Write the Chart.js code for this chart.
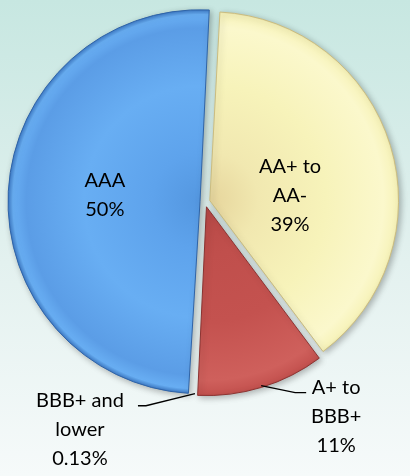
<!DOCTYPE html>
<html>
<head>
<meta charset="utf-8">
<script src="https://cdn.jsdelivr.net/npm/chart.js@4/dist/chart.umd.min.js"></script>
<style>
html,body{margin:0;padding:0;background:#fff;}
#wrap{width:410px;height:476px;position:relative;}
</style>
</head>
<body>
<div id="wrap"><canvas id="c" width="410" height="476"></canvas></div>
<script>
// ---- data ----
const categories = ['AA+ to AA-', 'A+ to BBB+', 'BBB+ and lower', 'AAA'];
const values = [39, 11, 0.13, 50];
const labelLines = [['AA+ to', 'AA-', '39%'], ['A+ to', 'BBB+', '11%'], ['BBB+ and', 'lower', '0.13%'], ['AAA', '50%']];

// ---- styles ----
const palettes = [
  ['#e6d59c', '#f1e8b0', '#f7f3ba', '#fbf8cc', '#d6c98a'],
  ['#b84a47', '#c04f4c', '#c4524f', '#cf605c', '#9c3a38'],
  ['#c4524f', '#c4524f', '#c4524f', '#c4524f', '#c4524f'],
  ['#5497e0', '#5ea3ec', '#68aef3', '#5b9de6', '#3570bd']
];
const borderCols = ['#cbbd80', '#8e3432', 'rgba(0,0,0,0)', '#2f64a8'];
const borderWidths = [1, 1, 0, 1];

function fillFor(ctx) {
  const chart = ctx.chart;
  const ca = chart.chartArea;
  if (!ca) return palettes[ctx.dataIndex][2];
  const cx = (ca.left + ca.right) / 2, cy = (ca.top + ca.bottom) / 2;
  const R = chart.options.radius;
  const p = palettes[ctx.dataIndex];
  const g = chart.ctx.createRadialGradient(cx, cy, 0, cx, cy, R + 6);
  g.addColorStop(0, p[0]);
  g.addColorStop(0.25, p[1]);
  g.addColorStop(0.6, p[2]);
  g.addColorStop(0.9, p[3]);
  g.addColorStop(0.97, p[2]);
  g.addColorStop(1, p[4]);
  return g;
}

const bgPlugin = {
  id: 'bg',
  beforeDraw(chart) {
    const c = chart.ctx;
    const g = c.createLinearGradient(0, 0, 0, chart.height);
    g.addColorStop(0, '#c7e7e1');
    g.addColorStop(0.55, '#e3f1ef');
    g.addColorStop(1, '#f6fafa');
    c.save();
    c.fillStyle = g;
    c.fillRect(0, 0, chart.width, chart.height);
    c.restore();
  }
};

const shadowPlugin = {
  id: 'shadow',
  beforeDatasetDraw(chart) {
    const c = chart.ctx;
    c.save();
    c.shadowColor = 'rgba(0,0,0,0.28)';
    c.shadowBlur = 6;
    c.shadowOffsetX = 2;
    c.shadowOffsetY = 2;
  },
  afterDatasetDraw(chart) {
    chart.ctx.restore();
  }
};

const labelPlugin = {
  id: 'sliceLabels',
  afterDatasetsDraw(chart, args, opts) {
    const c = chart.ctx;
    const meta = chart.getDatasetMeta(0);
    c.save();
    c.font = opts.font;
    c.fillStyle = '#000';
    c.textAlign = 'center';
    c.textBaseline = 'middle';
    meta.data.forEach((arc, i) => {
      const spec = opts.place[i];
      const lines = labelLines[i];
      const mid = (arc.startAngle + arc.endAngle) / 2;
      const shift = (arc.options.offset || 0) / 4;
      const cx = arc.x + Math.cos(mid) * shift;
      const cy = arc.y + Math.sin(mid) * shift;
      let tx, ty;
      if (spec.inside) {
        const a = mid + spec.da * Math.PI / 180;
        const r = arc.outerRadius * spec.r;
        tx = cx + Math.cos(a) * r;
        ty = cy + Math.sin(a) * r - (lines.length - 1) * opts.lineHeight / 2;
      } else {
        const ex = cx + Math.cos(mid) * arc.outerRadius;
        const ey = cy + Math.sin(mid) * arc.outerRadius;
        const kx = ex + spec.dx, ky = ey + spec.dy;
        const endX = kx + spec.len;
        c.beginPath();
        c.strokeStyle = '#000';
        c.lineWidth = 1.3;
        c.moveTo(ex, ey);
        c.lineTo(kx, ky);
        c.lineTo(endX, ky);
        c.stroke();
        tx = endX + spec.tdx;
        ty = ky + spec.tdy;
      }
      lines.forEach((t, j) => c.fillText(t, tx, ty + j * opts.lineHeight));
    });
    c.restore();
  }
};

new Chart(document.getElementById('c'), {
  type: 'pie',
  data: {
    labels: categories,
    datasets: [{
      data: values,
      backgroundColor: fillFor,
      borderColor: borderCols,
      borderWidth: borderWidths,
      offset: 20,
      hoverOffset: 0
    }]
  },
  plugins: [bgPlugin, shadowPlugin, labelPlugin],
  options: {
    responsive: false,
    animation: false,
    rotation: 3,
    radius: 187,
    layout: { padding: { left: 0, right: 0, top: 0, bottom: 72 } },
    plugins: {
      legend: { display: false },
      tooltip: { enabled: false },
      sliceLabels: {
        font: '20px Lato, "Open Sans", sans-serif',
        lineHeight: 29,
        place: [
          { inside: true, r: 0.43, da: 13 },
          { inside: false, dx: 34, dy: 7, len: 11, tdx: 30, tdy: -5 },
          { inside: false, dx: -49, dy: 12, len: -8, tdx: -58, tdy: -5 },
          { inside: true, r: 0.51, da: 1 }
        ]
      }
    }
  }
});
</script>
</body>
</html>
